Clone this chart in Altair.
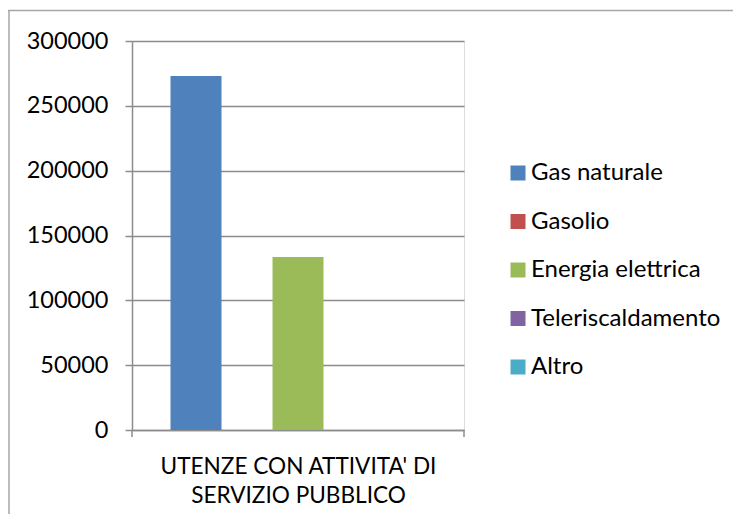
import altair as alt
import pandas as pd

category = ["UTENZE CON ATTIVITA' DI SERVIZIO PUBBLICO"]
series = ["Gas naturale", "Gasolio", "Energia elettrica", "Teleriscaldamento", "Altro"]
values = [273000, 0, 133500, 0, 0]
colors = ["#4F81BD", "#C0504D", "#9BBB59", "#8064A2", "#4BACC6"]
y_ticks = [0, 50000, 100000, 150000, 200000, 250000, 300000]
x_title = ["UTENZE CON ATTIVITA' DI", "SERVIZIO PUBBLICO"]

FONT = "Lato"
GRID = "#8c8c8c"

df = pd.DataFrame({"cat": category * len(series), "series": series, "value": values})

bars = alt.Chart(df).mark_bar().encode(
    x=alt.X("cat:N", title=x_title,
            scale=alt.Scale(paddingInner=0, paddingOuter=0.151),
            axis=alt.Axis(labels=False, ticks=False, domain=True, domainColor=GRID,
                          domainWidth=1.5, titleFontSize=22.6, titleFont=FONT,
                          titleFontWeight="normal", titleColor="black",
                          titlePadding=25, titleLineHeight=29)),
    xOffset=alt.XOffset("series:N", sort=series, scale=alt.Scale(paddingInner=0, paddingOuter=0)),
    y=alt.Y("value:Q", title=None,
            scale=alt.Scale(domain=[0, 300000], nice=False),
            axis=alt.Axis(values=y_ticks, format="d", labelFontSize=23.5, labelFont=FONT,
                          labelColor="black", labelPadding=17, tickSize=7, tickColor=GRID,
                          tickWidth=1.5, domainColor=GRID, domainWidth=1.5,
                          grid=True, gridColor=GRID, gridWidth=1.5)),
    color=alt.Color("series:N", sort=series,
                    scale=alt.Scale(domain=series, range=colors),
                    legend=alt.Legend(title=None, orient="none", legendX=374, legendY=120,
                                      symbolType="square", symbolSize=225,
                                      symbolStrokeWidth=0, labelFontSize=24,
                                      labelFont=FONT, labelColor="black",
                                      rowPadding=24.5, labelOffset=1, labelLimit=400)),
)

one = pd.DataFrame({"k": [0]})
# outer chart border (top and left edges)
border_top = alt.Chart(one).mark_rule(color="#a6a6a6", strokeWidth=1.5, clip=False).encode(
    x=alt.value(-124), x2=alt.value(610), y=alt.value(-30.5))
border_left = alt.Chart(one).mark_rule(color="#a6a6a6", strokeWidth=1.5, clip=False).encode(
    x=alt.value(-123), y=alt.value(-31), y2=alt.value(480))
# category boundary ticks on x-axis
tick_l = alt.Chart(one).mark_rule(color=GRID, strokeWidth=1.5, clip=False).encode(
    x=alt.value(0), y=alt.value(389), y2=alt.value(396))
tick_r = alt.Chart(one).mark_rule(color=GRID, strokeWidth=1.5, clip=False).encode(
    x=alt.value(332), y=alt.value(389), y2=alt.value(396))

chart = alt.layer(bars, border_top, border_left, tick_l, tick_r).properties(
    width=332, height=389,
    autosize=alt.AutoSizeParams(type="none"),
    padding={"left": 124, "top": 33, "right": 269, "bottom": 84},
).configure_view(stroke=None).configure(font=FONT)

chart.save("out.html", embed_options={"renderer": "svg", "actions": False})
